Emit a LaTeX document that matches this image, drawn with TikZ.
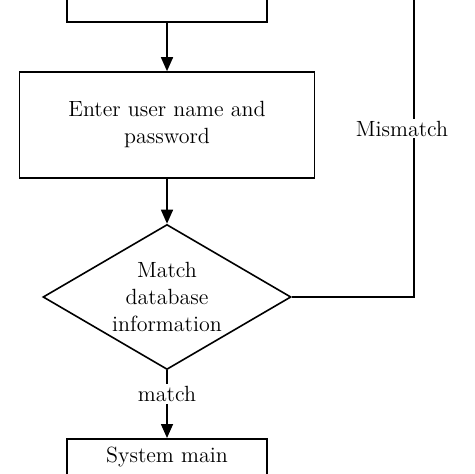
\documentclass[tikz,border=0pt]{standalone}
\usepackage{tikz}
\usetikzlibrary{shapes.geometric, arrows.meta, positioning, calc}
\begin{document}
\begin{tikzpicture}[
  x=0.5pt, y=-0.5pt,
  font=\fontsize{11}{13.5}\selectfont,
  stepbox/.style={rectangle, draw, thick, align=center, inner sep=2pt},
  checknode/.style={diamond, draw, thick, align=center, aspect=1.7, inner sep=-9pt, minimum width=124pt, minimum height=72.5pt},
  flowarrow/.style={-{Triangle[length=7pt,width=6pt]}, thick},
  edgelabel/.style={fill=white, inner sep=1pt}
]
\useasboundingbox (0,0) rectangle (474,474);
\clip (0,0) rectangle (474,474);

% Boxes
\node[stepbox, minimum width=100pt, minimum height=30pt] (start) at (167,-8) {};
\node[stepbox, minimum width=147.5pt, minimum height=53pt] (login) at (167,125) {Enter user name and\\password};
\node[checknode] (check) at (167,297) {Match\\database\\information};
\node[stepbox, minimum width=100pt, minimum height=30pt, anchor=north, text depth=14pt] (main) at (167,438) {System main};
\coordinate (back) at (414,-40);

% Connectors
\draw[flowarrow] (start) -- (login);
\draw[flowarrow] (login) -- (check);
\draw[flowarrow] (check) -- node[edgelabel, pos=0.35] {match} (main);
\draw[thick] (check.east) -| node[edgelabel, pos=0.75, xshift=-6pt] {Mismatch} (back);

\end{tikzpicture}
\end{document}
